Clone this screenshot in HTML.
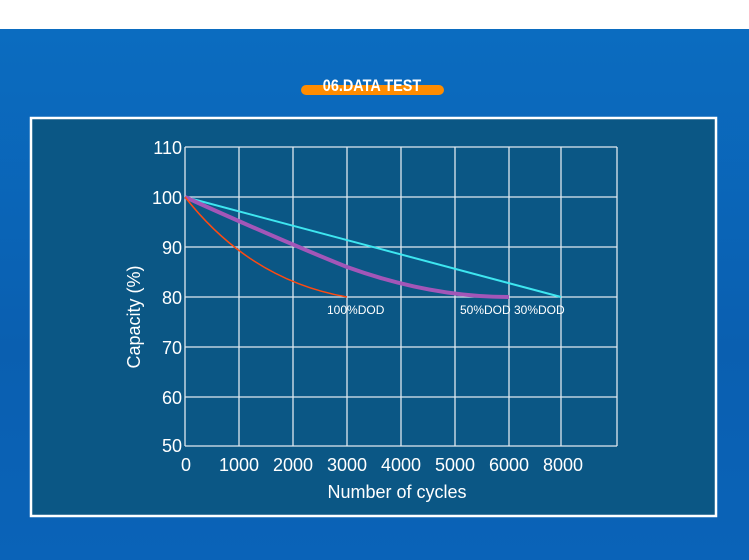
<!DOCTYPE html>
<html><head><style>
body{margin:0;width:749px;height:560px;overflow:hidden;background:#fff;font-family:"Liberation Sans",sans-serif}
.bg{position:absolute;left:0;top:29px;width:749px;height:531px;background:linear-gradient(180deg,#0b6cc0 0%,#0a5fb0 60%,#0a63b8 100%)}
</style></head><body>
<div class="bg"></div>
<svg width="749" height="560" style="position:absolute;left:0;top:0">
<rect x="301" y="85" width="143" height="10" rx="5" fill="#ff8c00"/>
<text x="372" y="91" text-anchor="middle" fill="#fff" font-weight="bold" font-size="17" transform="translate(372 0) scale(0.85 1) translate(-372 0)">06.DATA TEST</text>
<rect x="31" y="118" width="685" height="398" fill="#0b5785" stroke="#fff" stroke-width="2.5"/>
<g stroke="#dfe8f0" stroke-width="1.3">
<line x1="185" y1="147" x2="617" y2="147"/><line x1="185" y1="197" x2="617" y2="197"/><line x1="185" y1="247" x2="617" y2="247"/><line x1="185" y1="297" x2="617" y2="297"/><line x1="185" y1="347" x2="617" y2="347"/><line x1="185" y1="397" x2="617" y2="397"/><line x1="185" y1="446" x2="617" y2="446"/>
<line x1="185" y1="147" x2="185" y2="446"/><line x1="239" y1="147" x2="239" y2="446"/><line x1="293" y1="147" x2="293" y2="446"/><line x1="347" y1="147" x2="347" y2="446"/><line x1="401" y1="147" x2="401" y2="446"/><line x1="455" y1="147" x2="455" y2="446"/><line x1="509" y1="147" x2="509" y2="446"/><line x1="561" y1="147" x2="561" y2="446"/><line x1="617" y1="147" x2="617" y2="446"/>
</g>
<path d="M185 197 L561 297" stroke="#3ee6f0" stroke-width="2" fill="none"/>
<path d="M185 197 Q280 240 347 267 Q430 297 509 297" stroke="#a356b8" stroke-width="4" fill="none"/>
<path d="M185 197 Q250 280 347 297" stroke="#ff4a10" stroke-width="1.5" fill="none"/>
<g fill="#fff" font-size="12">
<text x="327" y="314">100%DOD</text><text x="460" y="314">50%DOD</text><text x="514" y="314">30%DOD</text>
</g>
<g fill="#fff" font-size="18" text-anchor="end">
<text x="182" y="154">110</text><text x="182" y="204">100</text><text x="182" y="254">90</text><text x="182" y="304">80</text><text x="182" y="354">70</text><text x="182" y="404">60</text><text x="182" y="452">50</text>
</g>
<g fill="#fff" font-size="18" text-anchor="middle">
<text x="186" y="471">0</text><text x="239" y="471">1000</text><text x="293" y="471">2000</text><text x="347" y="471">3000</text><text x="401" y="471">4000</text><text x="455" y="471">5000</text><text x="509" y="471">6000</text><text x="563" y="471">8000</text>
<text x="397" y="498">Number of cycles</text>
<text x="0" y="0" transform="translate(140 317) rotate(-90)">Capacity (%)</text>
</g>
</svg>
</body></html>
